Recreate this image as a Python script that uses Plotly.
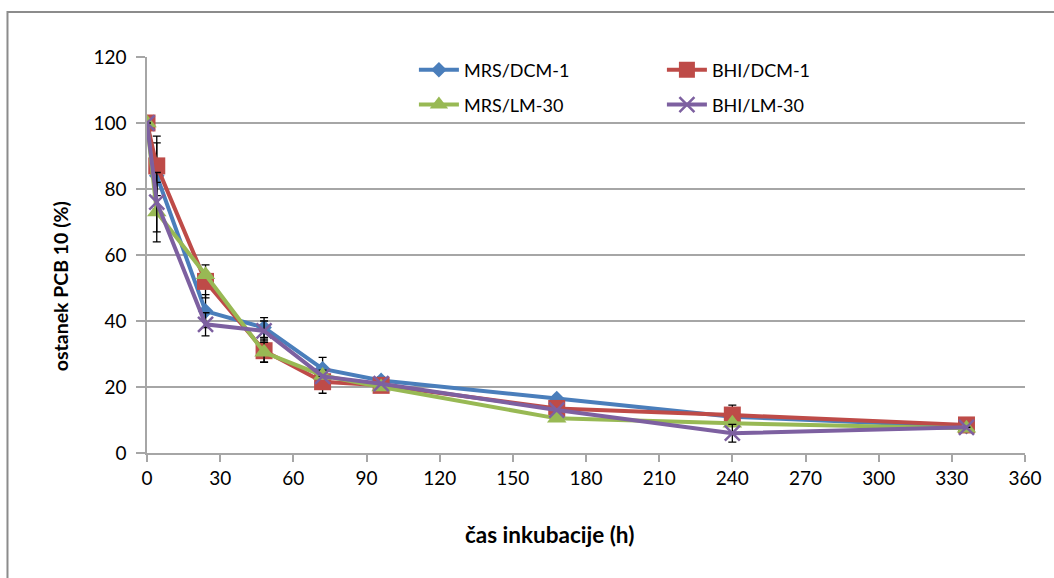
import plotly.graph_objects as go

# Incubation time (h) and residual PCB 10 (%) for each culture medium / strain
time_h = [0, 4, 24, 48, 72, 96, 168, 240, 336]

mrs_dcm1 = [100, 84, 43, 38, 25.5, 22, 16.5, 11, 8]
bhi_dcm1 = [100, 87, 52, 31, 21.6, 20.5, 13.5, 11.5, 8.5]
mrs_lm30 = [100, 73, 54, 30.5, 23.5, 20, 10.5, 9, 7.5]
bhi_lm30 = [100, 76, 39, 37, 23.2, 21, 13, 6, 7.8]

# Standard deviations shown as error bars
mrs_dcm1_sd = [0, 10, 5, 3, 3.5, 1, 0, 0, 0]
bhi_dcm1_sd = [0, 9, 5, 3.5, 3.5, 1, 0, 3, 0]
mrs_lm30_sd = [0, 9, 0, 3, 0, 0, 0, 0, 0]
bhi_lm30_sd = [0, 9, 3.5, 3, 0, 0, 0, 2.7, 0]

series_names = ["MRS/DCM-1", "BHI/DCM-1", "MRS/LM-30", "BHI/LM-30"]

x_ticks = [0, 30, 60, 90, 120, 150, 180, 210, 240, 270, 300, 330, 360]
y_ticks = [0, 20, 40, 60, 80, 100, 120]

x_title = "čas inkubacije (h)"
y_title = "ostanek PCB 10 (%)"

FONT = "Lato"

styles = [
    dict(color="#4A7EBB", symbol="diamond", size=12, legend="legend"),
    dict(color="#BE4B48", symbol="square", size=17, legend="legend"),
    dict(color="#98B954", symbol="triangle-up", size=17, legend="legend2"),
    dict(color="#7D60A0", symbol="x-thin", size=15, legend="legend2"),
]

values = [mrs_dcm1, bhi_dcm1, mrs_lm30, bhi_lm30]
errors = [mrs_dcm1_sd, bhi_dcm1_sd, mrs_lm30_sd, bhi_lm30_sd]

fig = go.Figure()
for name, ys, err, st in zip(series_names, values, errors, styles):
    marker = dict(symbol=st["symbol"], size=st["size"], color=st["color"])
    if st["symbol"] == "x-thin":
        marker["line"] = dict(color=st["color"], width=2.5)
    else:
        marker["line"] = dict(width=0)
    fig.add_trace(go.Scatter(
        x=time_h, y=ys, name=name, mode="lines+markers",
        line=dict(color=st["color"], width=4),
        marker=marker,
        error_y=dict(type="data", array=err, visible=True,
                     color="black", thickness=1.3, width=4),
        legend=st["legend"],
    ))

# Chart frame around the whole drawing
fig.add_shape(type="rect", xref="paper", yref="paper",
              x0=-0.1589, x1=1.05, y0=-0.35, y1=1.1136,
              line=dict(color="#8C8C8C", width=2), layer="below")

# Axis titles placed as free text
fig.add_annotation(text=f"<b>{x_title}</b>", xref="paper", yref="paper",
                   x=0.4586, y=-0.207, showarrow=False,
                   xanchor="center", yanchor="middle",
                   font=dict(family=FONT, size=22.5, color="black"))
fig.add_annotation(text=f"<b>{y_title}</b>", xref="paper", yref="paper",
                   x=-0.0988, y=0.4217, showarrow=False, textangle=-90,
                   xanchor="center", yanchor="middle",
                   font=dict(family=FONT, size=19.5, color="black"))

legend_common = dict(orientation="h", font=dict(family=FONT, size=18, color="black"),
                     bgcolor="rgba(255,255,255,0)", entrywidth=193,
                     entrywidthmode="pixels", itemwidth=40, xanchor="left",
                     yanchor="middle", tracegroupgap=0)

fig.update_layout(
    width=1054, height=578,
    margin=dict(l=147, r=26, t=57, b=125),
    paper_bgcolor="white", plot_bgcolor="white",
    font=dict(family=FONT, color="black"),
    showlegend=True,
    legend=dict(x=0.304, y=0.967, **legend_common),
    legend2=dict(x=0.304, y=0.879, **legend_common),
    xaxis=dict(
        range=[0, 360], tickvals=x_ticks, ticktext=[str(v) for v in x_ticks],
        showgrid=False, zeroline=False, showline=True, linecolor="#A6A6A6",
        linewidth=1.5, ticks="outside", ticklen=7, tickcolor="#A6A6A6",
        tickwidth=1.5, tickfont=dict(family=FONT, size=19, color="black"),
    ),
    yaxis=dict(
        range=[0, 120], tickvals=y_ticks, ticktext=[str(v) for v in y_ticks],
        showgrid=True, gridcolor="#A6A6A6", gridwidth=1.5, zeroline=False,
        showline=True, linecolor="#A6A6A6", linewidth=1.5,
        ticks="outside", ticklen=9, tickcolor="#A6A6A6", tickwidth=1.5,
        ticklabelstandoff=6,
        tickfont=dict(family=FONT, size=19, color="black"),
    ),
)

fig.write_html("out.html")
